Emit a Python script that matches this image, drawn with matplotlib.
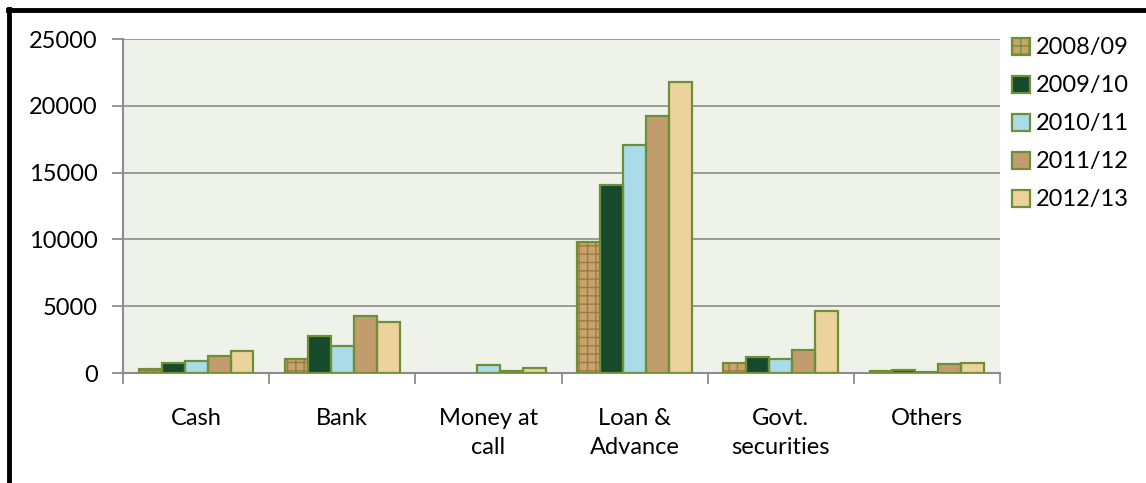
"""Grouped bar chart of asset composition by fiscal year."""

import matplotlib.pyplot as plt
import numpy as np
from matplotlib.lines import Line2D

categories = ["Cash", "Bank", "Money at\ncall", "Loan &\nAdvance", "Govt.\nsecurities", "Others"]
years = ["2008/09", "2009/10", "2010/11", "2011/12", "2012/13"]

fy_2008_09 = [270, 1050, 0, 9800, 720, 170]
fy_2009_10 = [730, 2750, 0, 14100, 1220, 250]
fy_2010_11 = [900, 2000, 620, 17100, 1050, 100]
fy_2011_12 = [1300, 4300, 170, 19200, 1720, 650]
fy_2012_13 = [1650, 3800, 350, 21750, 4640, 770]
series = [fy_2008_09, fy_2009_10, fy_2010_11, fy_2011_12, fy_2012_13]

fills = ["#c9a46a", "#174a2c", "#a9dce8", "#c39c6e", "#ecd39c"]
hatch_colors = ["#9a7a48", "#0f3a22", "#95cfdd", "#a5804f", "#e0c38a"]
hatches = ["++", "", "", "", ""]
edge = "#6f8e38"
fs = 17

plt.rcParams["font.family"] = ["Lato", "DejaVu Sans"]

fig = plt.figure(figsize=(11.46, 4.83), dpi=100)
W, H = 1146, 483
ax = fig.add_axes([123 / W, (H - 373) / H, 877 / W, 334 / H])
ax.set_facecolor("#eff2e9")

x = np.arange(len(categories))
bw = 0.157
for i, (vals, fc, hc, ht) in enumerate(zip(series, fills, hatch_colors, hatches)):
    pos = x + (i - 2) * bw
    vals = np.asarray(vals)
    lw = np.where(vals > 0, 1.6, 0)
    ax.bar(pos, vals, bw, color=fc, hatch=ht, edgecolor=hc, linewidth=0, zorder=3)
    ax.bar(pos, vals, bw, facecolor="none", edgecolor=edge, linewidth=lw, zorder=4)

ax.set_xlim(-0.5, len(categories) - 0.5)
ax.set_ylim(0, 25000)
ax.set_yticks(np.arange(0, 25001, 5000))
ax.yaxis.grid(True, color="#8c8c8c", linewidth=1.2, zorder=1)
ax.set_axisbelow(True)

# boundaries get the tick marks, centres carry the names
ax.set_xticks(np.arange(-0.5, len(categories), 1.0))
ax.set_xticklabels([])
ax.set_xticks(x, minor=True)
ax.set_xticklabels(categories, minor=True, fontsize=fs, linespacing=1.5)
ax.tick_params(axis="x", which="major", length=8, width=1.3, color="#8c8c8c")
ax.tick_params(axis="x", which="minor", length=0, pad=25)
ax.tick_params(axis="y", length=8, width=1.3, color="#8c8c8c", labelsize=fs, pad=10)

for side in ("top", "right"):
    ax.spines[side].set_visible(False)
for side in ("left", "bottom"):
    ax.spines[side].set_color("#8c8c8c")
    ax.spines[side].set_linewidth(1.5)

handles = [
    plt.Rectangle((0, 0), 1, 1, facecolor=fc, edgecolor=edge, linewidth=1.6, hatch=ht)
    for fc, ht in zip(fills, hatches)
]
fig.legend(handles, years, loc="upper left", bbox_to_anchor=(1003 / W, 1 - 28 / H),
           frameon=False, fontsize=fs, handlelength=0.75, handleheight=0.75,
           handletextpad=0.25, labelspacing=0.72, borderaxespad=0)

# heavy frame along the top and left edges
fig.add_artist(Line2D([9 / W, 9 / W], [0, 1 - 9 / H], color="black", linewidth=3.5,
                      transform=fig.transFigure))
fig.add_artist(Line2D([7.5 / W, 1], [1 - 10 / H, 1 - 10 / H], color="black", linewidth=3.5,
                      transform=fig.transFigure))

fig.savefig("out.png", dpi=100)
